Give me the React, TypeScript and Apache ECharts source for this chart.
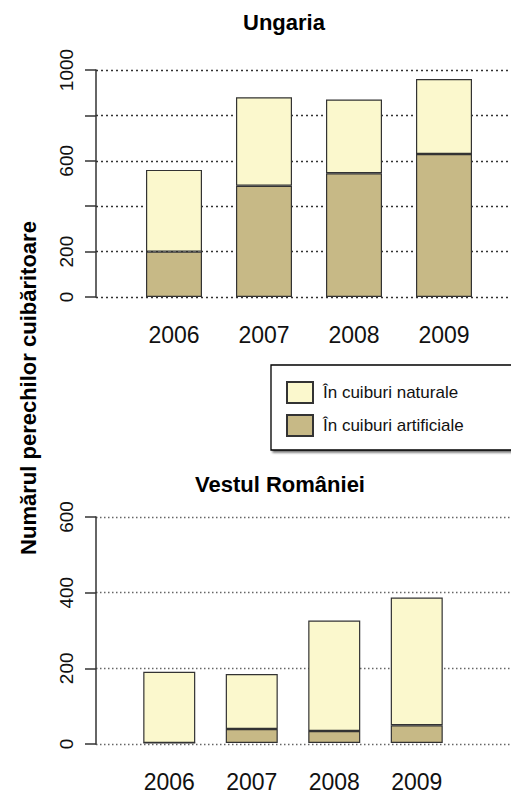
import React, { useEffect, useRef } from "react";
import * as echarts from "echarts";

const years = ["2006", "2007", "2008", "2009"];

const hungaryArtificial = [200, 490, 545, 630];
const hungaryNatural = [360, 390, 325, 330];

const romaniaArtificial = [0, 37, 32, 47];
const romaniaNatural = [189, 146, 293, 339];

const topYTicks = [0, 200, 400, 600, 800, 1000];
const topYLabels = ["0", "200", "", "600", "", "1000"];
const bottomYTicks = [0, 200, 400, 600];
const bottomYLabels = ["0", "200", "400", "600"];

const NAT = "În cuiburi naturale";
const ART = "În cuiburi artificiale";
const titleTop = "Ungaria";
const titleBottom = "Vestul României";
const yTitle = "Numărul perechilor cuibăritoare";

const FONT = "Liberation Sans, Arial, Helvetica, sans-serif";
const natColor = "#FBF8CD";
const artColor = "#C7B986";

export default function App() {
  const ref = useRef<HTMLDivElement>(null);
  useEffect(() => {
    document.body.style.margin = "0";
    if (!ref.current) return;
    const chart = echarts.init(ref.current, undefined, { renderer: "svg" });

    const bgY = (ticks: number[], labels: string[], gridIndex: number, dash: number[], dashColor: string) => ({
      type: "value" as const,
      gridIndex,
      min: ticks[0],
      max: ticks[ticks.length - 1],
      interval: ticks[1] - ticks[0],
      axisLine: { show: true, lineStyle: { color: "#333", width: 1.5 } },
      axisTick: { show: true, length: 11, lineStyle: { color: "#333", width: 1.5 } },
      axisLabel: {
        rotate: 90,
        fontSize: 19,
        fontFamily: FONT,
        color: "#111",
        margin: 20,
        formatter: (v: number) => {
          const i = ticks.indexOf(v);
          return i >= 0 ? labels[i] : "";
        },
      },
      splitLine: { show: true, lineStyle: { type: dash, color: dashColor, width: 1.3 } },
    });

    const barStyle = (color: string) => ({ color, borderColor: "#333", borderWidth: 1.2 });

    chart.setOption({
      animation: false,
      backgroundColor: "#fff",
      grid: [
        { left: 96, top: 70, width: 415, height: 227 },
        { left: 129, top: 70, width: 360, height: 227 },
        { left: 96, top: 517, width: 415, height: 227 },
        { left: 128, top: 517, width: 330, height: 227 },
      ],
      xAxis: [
        { type: "value", gridIndex: 0, show: false, min: 0, max: 1 },
        {
          type: "category",
          gridIndex: 1,
          data: years,
          axisLine: { show: false },
          axisTick: { show: false },
          axisLabel: { fontSize: 23, fontFamily: FONT, color: "#111", margin: 26 },
        },
        { type: "value", gridIndex: 2, show: false, min: 0, max: 1 },
        {
          type: "category",
          gridIndex: 3,
          data: years,
          axisLine: { show: false },
          axisTick: { show: false },
          axisLabel: { fontSize: 23, fontFamily: FONT, color: "#111", margin: 27 },
        },
      ],
      yAxis: [
        bgY(topYTicks, topYLabels, 0, [2, 3], "#333"),
        { type: "value", gridIndex: 1, show: false, min: 0, max: 1000, splitLine: { show: false } },
        bgY(bottomYTicks, bottomYLabels, 2, [1.5, 2.5], "#666"),
        { type: "value", gridIndex: 3, show: false, min: 0, max: 600, splitLine: { show: false } },
      ],
      legend: {
        data: [NAT, ART],
        orient: "vertical",
        left: 271,
        top: 365,
        itemWidth: 26,
        itemHeight: 21,
        itemGap: 10,
        icon: "rect",
        padding: [16, 51, 13, 15],
        backgroundColor: "#fff",
        borderColor: "#000",
        borderWidth: 1.3,
        borderRadius: 0,
        shadowColor: "rgba(0,0,0,0.55)",
        shadowBlur: 2,
        shadowOffsetX: 2,
        shadowOffsetY: 2,
        textStyle: { fontSize: 17, fontFamily: FONT, color: "#111", padding: [0, 0, 0, 5] },
      },
      graphic: [
        {
          type: "text",
          x: 284,
          y: 22,
          style: { text: titleTop, font: `bold 22px ${FONT}`, fill: "#000", textAlign: "center", textVerticalAlign: "middle" },
        },
        {
          type: "text",
          x: 280,
          y: 484,
          style: { text: titleBottom, font: `bold 22px ${FONT}`, fill: "#000", textAlign: "center", textVerticalAlign: "middle" },
        },
        {
          type: "text",
          x: 28,
          y: 388,
          rotation: Math.PI / 2,
          style: { text: yTitle, font: `bold 22px ${FONT}`, fill: "#000", textAlign: "center", textVerticalAlign: "middle" },
        },
      ],
      series: [
        { name: ART, type: "bar", xAxisIndex: 1, yAxisIndex: 1, stack: "hu", barWidth: 56, data: hungaryArtificial, itemStyle: barStyle(artColor) },
        { name: NAT, type: "bar", xAxisIndex: 1, yAxisIndex: 1, stack: "hu", barWidth: 56, data: hungaryNatural, itemStyle: barStyle(natColor) },
        { name: ART, type: "bar", xAxisIndex: 3, yAxisIndex: 3, stack: "ro", barWidth: 52, data: romaniaArtificial, itemStyle: barStyle(artColor) },
        { name: NAT, type: "bar", xAxisIndex: 3, yAxisIndex: 3, stack: "ro", barWidth: 52, data: romaniaNatural, itemStyle: barStyle(natColor) },
      ],
    });
    return () => chart.dispose();
  }, []);
  return <div ref={ref} style={{ width: 511, height: 793 }} />;
}
